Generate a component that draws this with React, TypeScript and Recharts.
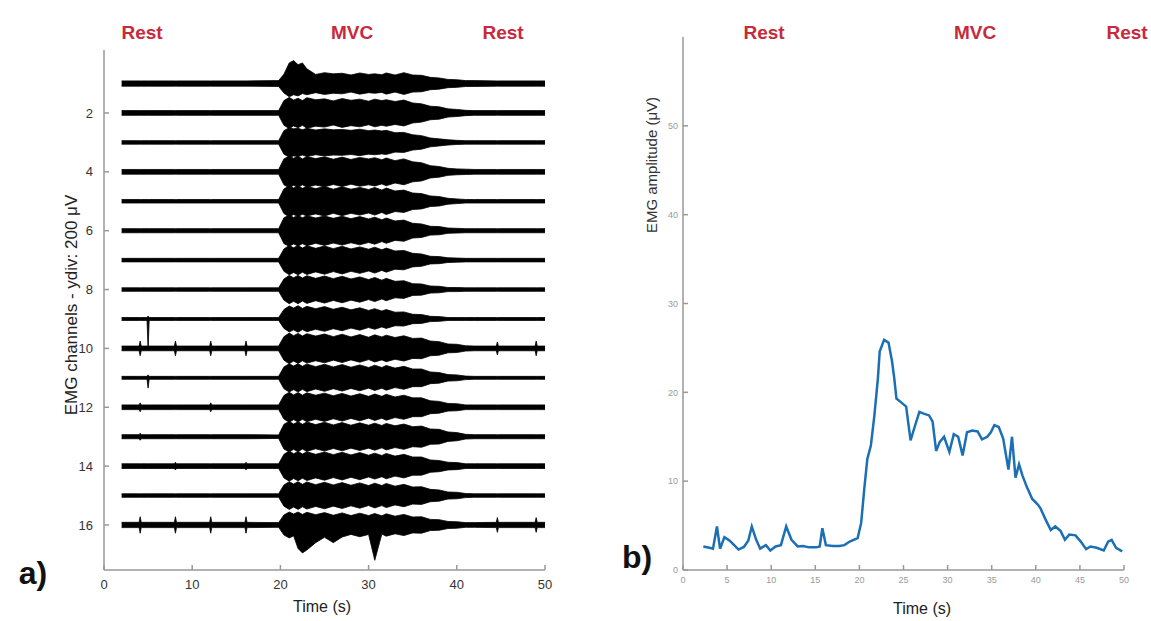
import React from 'react';
import { ComposedChart, Area, LineChart, Line, XAxis, YAxis } from 'recharts';

const FONT = '"Liberation Sans", Arial, Helvetica, sans-serif';

// ---- Panel a) : 16 EMG channels, half-width of each trace (in channel units)
const CHANNELS = [1, 2, 3, 4, 5, 6, 7, 8, 9, 10, 11, 12, 13, 14, 15, 16];
const CHANNEL_TICKS = [2, 4, 6, 8, 10, 12, 14, 16];
const TIME_TICKS_A = [0, 10, 20, 30, 40, 50];

// trace start / end (s)
const REST_T = [2, 50];
// half-width of the trace during rest, per channel
const REST_AMP = [0.09, 0.08, 0.06, 0.08, 0.06, 0.07, 0.06, 0.06, 0.05, 0.08, 0.05, 0.08, 0.07, 0.08, 0.06, 0.09];

// time points of the contraction part
const MVC_T = [19.8, 20.4, 21, 21.5, 22, 22.5, 23, 24, 25, 26, 27, 28, 29, 30, 30.7, 31.5, 32, 33, 34, 35, 36, 37, 38, 39, 40, 41, 42];

const CH1_MVC = [0.1, 0.32, 0.46, 0.4, 0.42, 0.34, 0.38, 0.31, 0.37, 0.33, 0.35, 0.29, 0.36, 0.31, 0.33, 0.3, 0.36, 0.29, 0.37, 0.29, 0.28, 0.21, 0.19, 0.14, 0.13, 0.1, 0.1];
const CH2_MVC = [0.08, 0.42, 0.53, 0.44, 0.5, 0.42, 0.52, 0.45, 0.48, 0.41, 0.49, 0.43, 0.47, 0.4, 0.47, 0.42, 0.45, 0.39, 0.44, 0.34, 0.31, 0.23, 0.21, 0.14, 0.12, 0.09, 0.08];
const CH3_MVC = [0.06, 0.4, 0.5, 0.46, 0.48, 0.43, 0.48, 0.42, 0.46, 0.43, 0.44, 0.41, 0.45, 0.4, 0.42, 0.39, 0.41, 0.33, 0.34, 0.26, 0.23, 0.15, 0.12, 0.09, 0.07, 0.06, 0.06];
const CH4_MVC = [0.08, 0.44, 0.54, 0.46, 0.53, 0.44, 0.52, 0.45, 0.51, 0.43, 0.5, 0.42, 0.49, 0.44, 0.48, 0.41, 0.47, 0.38, 0.44, 0.34, 0.31, 0.21, 0.18, 0.12, 0.1, 0.09, 0.08];
const CH5_MVC = [0.06, 0.42, 0.53, 0.45, 0.52, 0.44, 0.5, 0.43, 0.5, 0.41, 0.49, 0.41, 0.47, 0.4, 0.47, 0.38, 0.45, 0.35, 0.38, 0.28, 0.26, 0.18, 0.16, 0.1, 0.08, 0.06, 0.06];
const CH6_MVC = [0.07, 0.44, 0.53, 0.45, 0.52, 0.44, 0.51, 0.43, 0.5, 0.42, 0.49, 0.41, 0.48, 0.4, 0.46, 0.37, 0.43, 0.33, 0.36, 0.25, 0.23, 0.15, 0.14, 0.09, 0.08, 0.07, 0.07];
const CH7_MVC = [0.06, 0.38, 0.5, 0.42, 0.5, 0.41, 0.49, 0.4, 0.48, 0.39, 0.47, 0.38, 0.45, 0.37, 0.44, 0.35, 0.41, 0.31, 0.33, 0.23, 0.21, 0.13, 0.12, 0.08, 0.07, 0.06, 0.06];
const CH8_MVC = [0.06, 0.36, 0.48, 0.4, 0.48, 0.39, 0.47, 0.38, 0.46, 0.37, 0.45, 0.36, 0.43, 0.34, 0.41, 0.32, 0.38, 0.28, 0.3, 0.2, 0.19, 0.12, 0.11, 0.07, 0.07, 0.06, 0.06];
const CH9_MVC = [0.05, 0.32, 0.44, 0.37, 0.45, 0.36, 0.43, 0.35, 0.42, 0.33, 0.4, 0.31, 0.38, 0.29, 0.35, 0.27, 0.32, 0.23, 0.24, 0.16, 0.15, 0.09, 0.08, 0.05, 0.05, 0.05, 0.05];
const CH10_MVC = [0.08, 0.4, 0.52, 0.43, 0.51, 0.42, 0.5, 0.42, 0.49, 0.4, 0.48, 0.39, 0.47, 0.38, 0.46, 0.39, 0.45, 0.37, 0.43, 0.34, 0.35, 0.25, 0.23, 0.15, 0.14, 0.09, 0.08];
const CH11_MVC = [0.05, 0.37, 0.48, 0.4, 0.48, 0.39, 0.47, 0.38, 0.46, 0.37, 0.45, 0.36, 0.44, 0.35, 0.43, 0.35, 0.42, 0.33, 0.39, 0.3, 0.3, 0.2, 0.18, 0.11, 0.1, 0.06, 0.05];
const CH12_MVC = [0.08, 0.4, 0.51, 0.42, 0.5, 0.41, 0.49, 0.41, 0.48, 0.39, 0.47, 0.38, 0.46, 0.37, 0.45, 0.37, 0.44, 0.35, 0.41, 0.32, 0.32, 0.22, 0.2, 0.13, 0.12, 0.08, 0.08];
const CH13_MVC = [0.06, 0.42, 0.52, 0.43, 0.51, 0.42, 0.5, 0.41, 0.49, 0.4, 0.48, 0.39, 0.47, 0.39, 0.46, 0.38, 0.45, 0.37, 0.43, 0.34, 0.36, 0.26, 0.25, 0.16, 0.14, 0.08, 0.07];
const CH14_MVC = [0.08, 0.4, 0.51, 0.42, 0.5, 0.41, 0.49, 0.4, 0.48, 0.39, 0.47, 0.38, 0.46, 0.37, 0.44, 0.36, 0.43, 0.34, 0.4, 0.31, 0.31, 0.21, 0.19, 0.13, 0.12, 0.08, 0.08];
const CH15_MVC = [0.06, 0.36, 0.47, 0.39, 0.47, 0.38, 0.46, 0.37, 0.45, 0.36, 0.44, 0.35, 0.43, 0.34, 0.42, 0.34, 0.41, 0.32, 0.38, 0.29, 0.3, 0.21, 0.19, 0.12, 0.11, 0.07, 0.06];
const CH16_MVC = [0.08, 0.34, 0.44, 0.37, 0.44, 0.36, 0.43, 0.35, 0.42, 0.33, 0.41, 0.32, 0.4, 0.32, 0.39, 0.31, 0.38, 0.3, 0.36, 0.27, 0.28, 0.19, 0.18, 0.12, 0.11, 0.08, 0.08];

const MVC_AMP = [
  CH1_MVC, CH2_MVC, CH3_MVC, CH4_MVC, CH5_MVC, CH6_MVC, CH7_MVC, CH8_MVC,
  CH9_MVC, CH10_MVC, CH11_MVC, CH12_MVC, CH13_MVC, CH14_MVC, CH15_MVC, CH16_MVC,
];

// isolated spikes and one-sided bursts: channel, time, extent up, extent down
const SPIKES = [
  { ch: 1, t: 21, up: 0.7, down: 0.45 },
  { ch: 1, t: 21.5, up: 0.78, down: 0.38 },
  { ch: 1, t: 22, up: 0.64, down: 0.42 },
  { ch: 1, t: 22.5, up: 0.7, down: 0.34 },
  { ch: 1, t: 23, up: 0.5, down: 0.38 },
  { ch: 9, t: 5, up: 0.1, down: 1.05 },
  { ch: 11, t: 5, up: 0.1, down: 0.35 },
  { ch: 10, t: 4.1, up: 0.25, down: 0.25 },
  { ch: 10, t: 8.1, up: 0.25, down: 0.25 },
  { ch: 10, t: 12.1, up: 0.25, down: 0.25 },
  { ch: 10, t: 16.1, up: 0.25, down: 0.25 },
  { ch: 10, t: 44.6, up: 0.22, down: 0.22 },
  { ch: 10, t: 49, up: 0.25, down: 0.25 },
  { ch: 12, t: 4.1, up: 0.15, down: 0.15 },
  { ch: 12, t: 12.1, up: 0.15, down: 0.15 },
  { ch: 13, t: 4.1, up: 0.12, down: 0.12 },
  { ch: 14, t: 8.1, up: 0.13, down: 0.13 },
  { ch: 14, t: 16.1, up: 0.13, down: 0.13 },
  { ch: 16, t: 4.1, up: 0.28, down: 0.28 },
  { ch: 16, t: 8.1, up: 0.28, down: 0.28 },
  { ch: 16, t: 12.1, up: 0.28, down: 0.28 },
  { ch: 16, t: 16.1, up: 0.28, down: 0.28 },
  { ch: 16, t: 44.6, up: 0.25, down: 0.25 },
  { ch: 16, t: 49, up: 0.25, down: 0.25 },
  { ch: 16, t: 22, up: 0.44, down: 0.8 },
  { ch: 16, t: 22.5, up: 0.36, down: 0.95 },
  { ch: 16, t: 23, up: 0.43, down: 0.85 },
  { ch: 16, t: 24, up: 0.35, down: 0.6 },
  { ch: 16, t: 26, up: 0.33, down: 0.6 },
  { ch: 16, t: 30.7, up: 0.39, down: 1.2 },
];

// ---- Panel b) : EMG amplitude over time
const RMS_T = [
  2.3, 3.0, 3.4, 3.85, 4.2, 4.7, 5.3, 5.8, 6.3, 6.9, 7.4, 7.8, 8.3, 8.75, 9.4, 9.9, 10.5, 11.1, 11.7, 12.3,
  13.0, 13.6, 14.3, 15.1, 15.5, 15.8, 16.2, 17.0, 17.7, 18.3, 18.9, 19.8, 20.2, 20.55, 20.9, 21.3, 21.7, 22.1,
  22.3, 22.8, 23.3, 23.7, 23.95, 24.2, 24.7, 25.3, 25.8, 26.2, 26.8, 27.3, 27.9, 28.3, 28.7, 29.1, 29.6, 30.2,
  30.7, 31.2, 31.7, 32.2, 32.8, 33.4, 33.9, 34.5, 34.9, 35.3, 35.8, 36.3, 36.9, 37.3, 37.7, 38.1, 38.5, 39.0,
  39.6, 40.2, 40.5, 41.1, 41.7, 42.2, 42.8, 43.3, 43.8, 44.5, 45.1, 45.7, 46.2, 46.9, 47.7, 48.2, 48.6, 49.1, 49.8,
];
const RMS_V = [
  2.65, 2.5, 2.4, 4.9, 2.4, 3.7, 3.3, 2.8, 2.3, 2.6, 3.3, 4.9, 3.4, 2.4, 2.8, 2.2, 2.65, 2.8, 4.9, 3.4,
  2.65, 2.7, 2.55, 2.55, 2.65, 4.7, 2.8, 2.7, 2.7, 2.8, 3.2, 3.6, 5.3, 9.1, 12.5, 14.0, 17.4, 21.6,
  24.6, 25.9, 25.6, 23.5, 21.6, 19.3, 18.9, 18.4, 14.6, 15.9, 17.8, 17.6, 17.4, 16.7, 13.4, 14.4, 15.0, 13.3,
  15.3, 15.0, 12.9, 15.5, 15.7, 15.6, 14.7, 15.0, 15.5, 16.3, 16.1, 14.8, 11.3, 15.0, 10.4, 11.9, 10.6, 9.3,
  8.0, 7.4, 7.0, 5.7, 4.5, 4.9, 4.4, 3.4, 4.0, 3.9, 3.2, 2.35, 2.65, 2.5, 2.2, 3.2, 3.4, 2.5, 2.1,
];
const TIME_TICKS_B = [0, 5, 10, 15, 20, 25, 30, 35, 40, 45, 50];
const AMP_TICKS = [0, 10, 20, 30, 40, 50];

const PHASES_A = [
  { label: 'Rest', x: 142 },
  { label: 'MVC', x: 352 },
  { label: 'Rest', x: 503 },
];
const PHASES_B = [
  { label: 'Rest', x: 764 },
  { label: 'MVC', x: 975 },
  { label: 'Rest', x: 1127 },
];

const r2 = (v: number) => Math.round(v * 100) / 100;

// build the banded table for the channel traces
const buildEmgRows = () => {
  const times = new Set<number>([...REST_T, ...MVC_T]);
  SPIKES.forEach((s) => {
    if (!MVC_T.includes(s.t)) {
      times.add(r2(s.t - 0.12));
      times.add(s.t);
      times.add(r2(s.t + 0.12));
    }
  });
  const sorted = Array.from(times).sort((a, b) => a - b);
  return sorted.map((t) => {
    const row: Record<string, any> = { t };
    const k = MVC_T.indexOf(t);
    CHANNELS.forEach((ch, i) => {
      let up = k >= 0 ? MVC_AMP[i][k] : REST_AMP[i];
      let down = up;
      const sp = SPIKES.find((s) => s.ch === ch && s.t === t);
      if (sp) {
        up = sp.up;
        down = sp.down;
      }
      row[`c${ch}`] = [ch - up, ch + down];
    });
    return row;
  });
};

const emgRows = buildEmgRows();
const rmsRows = RMS_T.map((t, i) => ({ t, v: RMS_V[i] }));

const abs = (x: number, y: number): React.CSSProperties => ({
  position: 'absolute',
  left: x,
  top: y,
  transform: 'translate(-50%, -50%)',
  whiteSpace: 'nowrap',
  fontFamily: FONT,
});

export default function App() {
  return (
    <div style={{ position: 'absolute', left: 0, top: 0, width: 1151, height: 621, background: '#fff', overflow: 'hidden' }}>
      {/* Panel a) */}
      <div style={{ position: 'absolute', left: 0, top: 0 }}>
        <ComposedChart width={560} height={621} data={emgRows} margin={{ top: 50, right: 15, bottom: 21, left: 64 }}>
          <XAxis
            dataKey="t"
            type="number"
            domain={[0, 50]}
            ticks={TIME_TICKS_A}
            allowDataOverflow
            height={30}
            stroke="#999"
            strokeWidth={1.5}
            tickSize={-5}
            tickMargin={15}
            tick={{ fill: '#333', fontSize: 13, fontFamily: FONT }}
          />
          <YAxis
            type="number"
            domain={[-0.14, 17.53]}
            reversed
            ticks={CHANNEL_TICKS}
            allowDataOverflow
            width={40}
            stroke="#999"
            strokeWidth={1.5}
            tickSize={-5}
            tickMargin={16}
            tick={{ fill: '#333', fontSize: 13, fontFamily: FONT }}
          />
          {CHANNELS.map((ch) => (
            <Area
              key={ch}
              dataKey={`c${ch}`}
              type="linear"
              stroke="#000"
              strokeWidth={0.8}
              fill="#000"
              fillOpacity={1}
              dot={false}
              activeDot={false}
              isAnimationActive={false}
            />
          ))}
        </ComposedChart>
      </div>

      {/* Panel b) */}
      <div style={{ position: 'absolute', left: 560, top: 0 }}>
        <LineChart width={591} height={621} data={rmsRows} margin={{ top: 37, right: 27, bottom: 21, left: 83 }}>
          <XAxis
            dataKey="t"
            type="number"
            domain={[0, 50]}
            ticks={TIME_TICKS_B}
            allowDataOverflow
            height={30}
            stroke="#999"
            strokeWidth={1.5}
            tickSize={-5}
            tickMargin={12}
            tick={{ fill: '#999', fontSize: 9, fontFamily: FONT }}
          />
          <YAxis
            type="number"
            domain={[0, 60]}
            ticks={AMP_TICKS}
            allowDataOverflow
            width={40}
            stroke="#999"
            strokeWidth={1.5}
            tickSize={-5}
            tickMargin={10}
            tick={{ fill: '#999', fontSize: 9, fontFamily: FONT }}
          />
          <Line
            dataKey="v"
            type="linear"
            stroke="#1b6fb5"
            strokeWidth={2.5}
            dot={false}
            activeDot={false}
            isAnimationActive={false}
          />
        </LineChart>
      </div>

      {/* phase labels */}
      {[...PHASES_A, ...PHASES_B].map((p, i) => (
        <div key={i} style={{ ...abs(p.x, 33), color: '#c72a3c', fontSize: 19, fontWeight: 'bold' }}>
          {p.label}
        </div>
      ))}

      {/* axis titles */}
      <div style={{ ...abs(72, 305), transform: 'translate(-50%, -50%) rotate(-90deg)', fontSize: 17, color: '#222' }}>
        EMG channels - ydiv: 200 μV
      </div>
      <div style={{ ...abs(322, 607), fontSize: 16, color: '#222' }}>Time (s)</div>
      <div style={{ ...abs(651, 165), transform: 'translate(-50%, -50%) rotate(-90deg)', fontSize: 15, color: '#333' }}>
        EMG amplitude (μV)
      </div>
      <div style={{ ...abs(922, 609), fontSize: 16, color: '#222' }}>Time (s)</div>

      {/* panel letters */}
      <div style={{ ...abs(33, 573), fontSize: 32, fontWeight: 'bold', color: '#111' }}>a)</div>
      <div style={{ ...abs(637, 557), fontSize: 32, fontWeight: 'bold', color: '#111' }}>b)</div>
    </div>
  );
}
